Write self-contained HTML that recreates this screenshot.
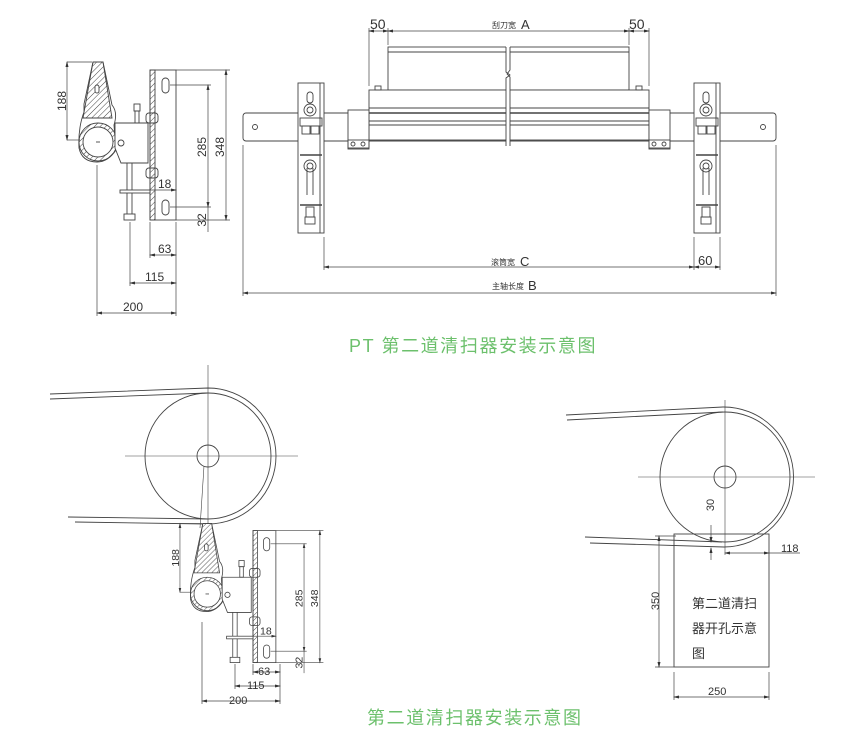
<!DOCTYPE html>
<html><head><meta charset="utf-8"><style>
html,body{margin:0;padding:0;background:#fff;}
svg{display:block;}
text{font-family:"Liberation Sans","Noto Sans CJK SC",sans-serif;fill:#333;}
.t{font-family:"Liberation Sans","Noto Sans CJK SC",sans-serif;fill:#6cc06c;font-size:18px;letter-spacing:1.6px;}
</style></head><body>
<svg width="858" height="737" viewBox="0 0 858 737" xmlns="http://www.w3.org/2000/svg">
<defs>
<pattern id="h" width="4" height="4" patternUnits="userSpaceOnUse" patternTransform="rotate(45)">
<line x1="0" y1="0" x2="0" y2="4" stroke="#444" stroke-width="1"/></pattern>
<marker id="a" markerWidth="6" markerHeight="6" refX="5" refY="3" orient="auto-start-reverse" markerUnits="userSpaceOnUse"><path d="M0,1.5 L6,3 L0,4.5z" fill="#333"/></marker>
<g id="clamp" fill="none" stroke="#444" stroke-width="0.9">
  <!-- arm loop -->
  <path d="M93,62 L103,62 L112,105 Q118,112 114,125 L116,150 Q108,162 97,162 Q82,162 79,148 Q78,128 84,112 L84,104 Z" fill="#fff"/>
  <path d="M93,62 L103,62 L112,118 L83,118 Z" fill="url(#h)"/>
  <rect x="95" y="85" width="4" height="8" rx="2" fill="#fff"/>
  <circle cx="98" cy="142" r="19" fill="url(#h)"/>
  <circle cx="98" cy="142" r="15" fill="#fff"/>
  <line x1="96" y1="142" x2="100" y2="142"/>
  <!-- box -->
  <path d="M115,123 L148,123 L148,163 L121,163 L115,148 Z" fill="#fff"/>
  <circle cx="121" cy="143" r="3"/>
  <rect x="134" y="104" width="6" height="7"/><rect x="135" y="111" width="4" height="12"/>
  <!-- plate -->
  <rect x="150" y="70" width="26" height="150" fill="#fff"/>
  <rect x="150" y="70" width="5" height="150" fill="url(#h)"/>
  <rect x="162" y="78" width="7" height="15" rx="3.5"/>
  <rect x="162" y="200" width="7" height="15" rx="3.5"/>
  <rect x="146" y="113" width="12" height="10" rx="3"/>
  <rect x="146" y="168" width="12" height="10" rx="3"/>
  <!-- rod -->
  <line x1="127" y1="163" x2="127" y2="214"/><line x1="132" y1="163" x2="132" y2="214"/>
  <rect x="124" y="214" width="11" height="6"/>
  <rect x="120" y="190" width="30" height="3" fill="#fff"/>
  <!-- dims -->
  <g stroke="#444" stroke-width="0.7">
   <line x1="67" y1="62" x2="92" y2="62"/><line x1="67" y1="140" x2="80" y2="140"/>
   <line x1="67" y1="62" x2="67" y2="140" marker-start="url(#a)" marker-end="url(#a)"/>
   <line x1="176" y1="70" x2="230" y2="70"/><line x1="176" y1="220" x2="230" y2="220"/>
   <line x1="226" y1="70" x2="226" y2="220" marker-start="url(#a)" marker-end="url(#a)"/>
   <line x1="170" y1="85" x2="211" y2="85"/><line x1="170" y1="207" x2="211" y2="207"/>
   <line x1="208" y1="85" x2="208" y2="207" marker-start="url(#a)" marker-end="url(#a)"/>
   <line x1="208" y1="207" x2="208" y2="232"/>
   <line x1="150" y1="190" x2="176" y2="190" marker-end="url(#a)"/>
  </g>
  <g stroke="none" fill="#333" font-size="12">
   <text x="0" y="0" transform="translate(66,101) rotate(-90)" text-anchor="middle" stroke="none" fill="#333">188</text>
   <text x="0" y="0" transform="translate(224,147) rotate(-90)" text-anchor="middle" stroke="none" fill="#333">348</text>
   <text x="0" y="0" transform="translate(206,147) rotate(-90)" text-anchor="middle" stroke="none" fill="#333">285</text>
   <text x="0" y="0" transform="translate(206,220) rotate(-90)" text-anchor="middle" stroke="none" fill="#333">32</text>
   <text x="158" y="188" stroke="none" fill="#333">18</text>
  </g>
</g>
<g id="brk" fill="none" stroke="#444" stroke-width="0.9">
  <rect x="298" y="83" width="26" height="150" fill="#fff"/>
  <line x1="320" y1="83" x2="320" y2="233"/>
  <rect x="307" y="92" width="6" height="11" rx="3"/>
  <circle cx="310" cy="110" r="6"/><circle cx="310" cy="110" r="3"/>
  <rect x="300" y="118" width="22" height="8"/>
  <rect x="302" y="126" width="8" height="8"/><rect x="311" y="126" width="8" height="8"/>
  <line x1="300" y1="155" x2="322" y2="155" stroke-width="1.6"/>
  <circle cx="310" cy="166" r="6"/><circle cx="310" cy="166" r="3"/>
  <line x1="307" y1="168" x2="307" y2="195"/><line x1="313" y1="168" x2="313" y2="195"/>
  <line x1="300" y1="205" x2="322" y2="205" stroke-width="1.4"/>
  <rect x="306" y="207" width="8" height="10"/><rect x="305" y="217" width="10" height="7"/>
</g>
</defs>

<!-- ===== Top left side view ===== -->
<use href="#clamp"/>
<g stroke="#444" stroke-width="0.7" fill="none">
  <line x1="150" y1="222" x2="150" y2="258"/><line x1="176" y1="222" x2="176" y2="316"/>
  <line x1="130" y1="222" x2="130" y2="286"/><line x1="97" y1="165" x2="97" y2="316"/>
  <line x1="150" y1="255" x2="176" y2="255" marker-start="url(#a)" marker-end="url(#a)"/>
  <line x1="130" y1="283" x2="176" y2="283" marker-start="url(#a)" marker-end="url(#a)"/>
  <line x1="97" y1="313" x2="176" y2="313" marker-start="url(#a)" marker-end="url(#a)"/>
</g>
<text x="158" y="253" font-size="12">63</text>
<text x="145" y="281" font-size="12">115</text>
<text x="123" y="311" font-size="12">200</text>

<!-- ===== Top middle front view ===== -->
<g fill="none" stroke="#444" stroke-width="0.9">
  <rect x="243" y="113" width="533" height="28" rx="3" fill="#fff"/>
  <circle cx="255" cy="127" r="2.5"/><circle cx="763" cy="127" r="2.5"/>
  <rect x="388" y="47" width="241" height="43" fill="#fff"/>
  <line x1="388" y1="52" x2="629" y2="52"/>
  <rect x="369" y="90" width="280" height="50" fill="#fff"/>
  <line x1="369" y1="108" x2="649" y2="108"/>
  <line x1="369" y1="113" x2="649" y2="113" stroke-width="1.5"/>
  <line x1="369" y1="121" x2="649" y2="121"/>
  <line x1="369" y1="125" x2="649" y2="125"/>
  <rect x="348" y="110" width="21" height="38" fill="#fff"/>
  <rect x="348" y="140" width="21" height="9"/>
  <circle cx="353" cy="144" r="2"/><circle cx="363" cy="144" r="2"/>
  <rect x="649" y="110" width="21" height="38" fill="#fff"/>
  <rect x="649" y="140" width="21" height="9"/>
  <circle cx="654" cy="144" r="2"/><circle cx="664" cy="144" r="2"/>
  <rect x="375" y="86" width="6" height="4"/><rect x="636" y="86" width="6" height="4"/>
  <rect x="506" y="44" width="4" height="102" fill="#fff" stroke="none"/>
  <path d="M506,47 L506,72 L510,75 L506,78 L506,146 M510,47 L510,70 L507,74 L510,77 L510,146"/>
</g>
<use href="#brk"/>
<use href="#brk" transform="translate(396,0)"/>
<g stroke="#444" stroke-width="0.7" fill="none">
  <line x1="369" y1="28" x2="369" y2="86"/><line x1="388" y1="28" x2="388" y2="45"/>
  <line x1="629" y1="28" x2="629" y2="45"/><line x1="649" y1="28" x2="649" y2="86"/>
  <line x1="369" y1="31" x2="388" y2="31" marker-start="url(#a)" marker-end="url(#a)"/>
  <line x1="388" y1="31" x2="629" y2="31" marker-start="url(#a)" marker-end="url(#a)"/>
  <line x1="629" y1="31" x2="649" y2="31" marker-start="url(#a)" marker-end="url(#a)"/>
  <line x1="324" y1="237" x2="324" y2="270"/><line x1="694" y1="237" x2="694" y2="270"/><line x1="720" y1="237" x2="720" y2="270"/>
  <line x1="324" y1="267" x2="694" y2="267" marker-start="url(#a)" marker-end="url(#a)"/>
  <line x1="694" y1="267" x2="720" y2="267" marker-start="url(#a)" marker-end="url(#a)"/>
  <line x1="243" y1="145" x2="243" y2="296"/><line x1="776" y1="145" x2="776" y2="296"/>
  <line x1="243" y1="293" x2="776" y2="293" marker-start="url(#a)" marker-end="url(#a)"/>
</g>
<text x="370" y="29" font-size="14">50</text>
<text x="629" y="29" font-size="14">50</text>
<text x="492" y="28" font-size="8">刮刀宽</text><text x="521" y="29" font-size="13">A</text>
<text x="491" y="265" font-size="8">滚筒宽</text><text x="520" y="266" font-size="13">C</text>
<text x="698" y="265" font-size="13">60</text>
<text x="492" y="289" font-size="8">主轴长度</text><text x="528" y="290" font-size="13">B</text>

<text class="t" x="349" y="352">PT 第二道清扫器安装示意图</text>

<!-- ===== Bottom left ===== -->
<g fill="none" stroke="#444" stroke-width="0.9">
  <circle cx="208" cy="456" r="63"/>
  <circle cx="208" cy="456" r="11"/>
  <path d="M50,394 L208,388 A68,68 0 0 1 208,524 L75,522"/>
  <path d="M50,399 L208,393"/>
  <path d="M68,517 L208,519"/>
  <line x1="125" y1="456" x2="298" y2="456" stroke-width="0.6"/>
  <line x1="208" y1="365" x2="208" y2="530" stroke-width="0.6"/>
  <path d="M204,466 L200,528" stroke-width="0.6"/>
</g>
<use href="#clamp" transform="translate(121,469) scale(0.88)"/>
<g stroke="#444" stroke-width="0.7" fill="none">
  <line x1="253" y1="664" x2="253" y2="675"/><line x1="280" y1="664" x2="280" y2="704"/>
  <line x1="235" y1="664" x2="235" y2="689"/><line x1="202" y1="622" x2="202" y2="704"/>
  <line x1="253" y1="672" x2="280" y2="672" marker-start="url(#a)" marker-end="url(#a)"/>
  <line x1="235" y1="686" x2="280" y2="686" marker-start="url(#a)" marker-end="url(#a)"/>
  <line x1="202" y1="701" x2="280" y2="701" marker-start="url(#a)" marker-end="url(#a)"/>
</g>
<text x="258" y="675" font-size="11">63</text>
<text x="247" y="689" font-size="11">115</text>
<text x="229" y="704" font-size="11">200</text>

<!-- ===== Bottom right ===== -->
<g fill="none" stroke="#444" stroke-width="0.9">
  <circle cx="725" cy="477" r="65"/>
  <circle cx="725" cy="477" r="11"/>
  <path d="M566,415 L723,407 A70,70 0 0 1 724,547 L590,543"/>
  <path d="M567,420 L723,412"/>
  <path d="M585,537 L722,542"/>
  <line x1="638" y1="477" x2="815" y2="477" stroke-width="0.6"/>
  <line x1="725" y1="400" x2="725" y2="555" stroke-width="0.6"/>
  <rect x="674" y="534" width="95" height="133" fill="none"/>
</g>
<g stroke="#444" stroke-width="0.7" fill="none">
  <line x1="655" y1="536" x2="676" y2="536"/><line x1="655" y1="667" x2="674" y2="667"/>
  <line x1="659" y1="536" x2="659" y2="667" marker-start="url(#a)" marker-end="url(#a)"/>
  <line x1="674" y1="672" x2="674" y2="700"/><line x1="769" y1="672" x2="769" y2="700"/>
  <line x1="674" y1="697" x2="769" y2="697" marker-start="url(#a)" marker-end="url(#a)"/>
  <line x1="725" y1="553" x2="769" y2="553" marker-start="url(#a)" marker-end="url(#a)"/>
  <line x1="769" y1="553" x2="800" y2="553"/>
  <line x1="711" y1="525" x2="711" y2="542" marker-end="url(#a)"/>
  <line x1="711" y1="560" x2="711" y2="548" marker-end="url(#a)"/>
</g>
<text x="0" y="0" transform="translate(714,505) rotate(-90)" text-anchor="middle" font-size="11">30</text>
<text x="781" y="552" font-size="11">118</text>
<text x="0" y="0" transform="translate(659,601) rotate(-90)" text-anchor="middle" font-size="11">350</text>
<text x="708" y="695" font-size="11">250</text>
<text x="692" y="608" font-size="13">第二道清扫</text>
<text x="692" y="633" font-size="13">器开孔示意</text>
<text x="692" y="658" font-size="13">图</text>

<text class="t" x="367" y="724">第二道清扫器安装示意图</text>
</svg>
</body></html>
